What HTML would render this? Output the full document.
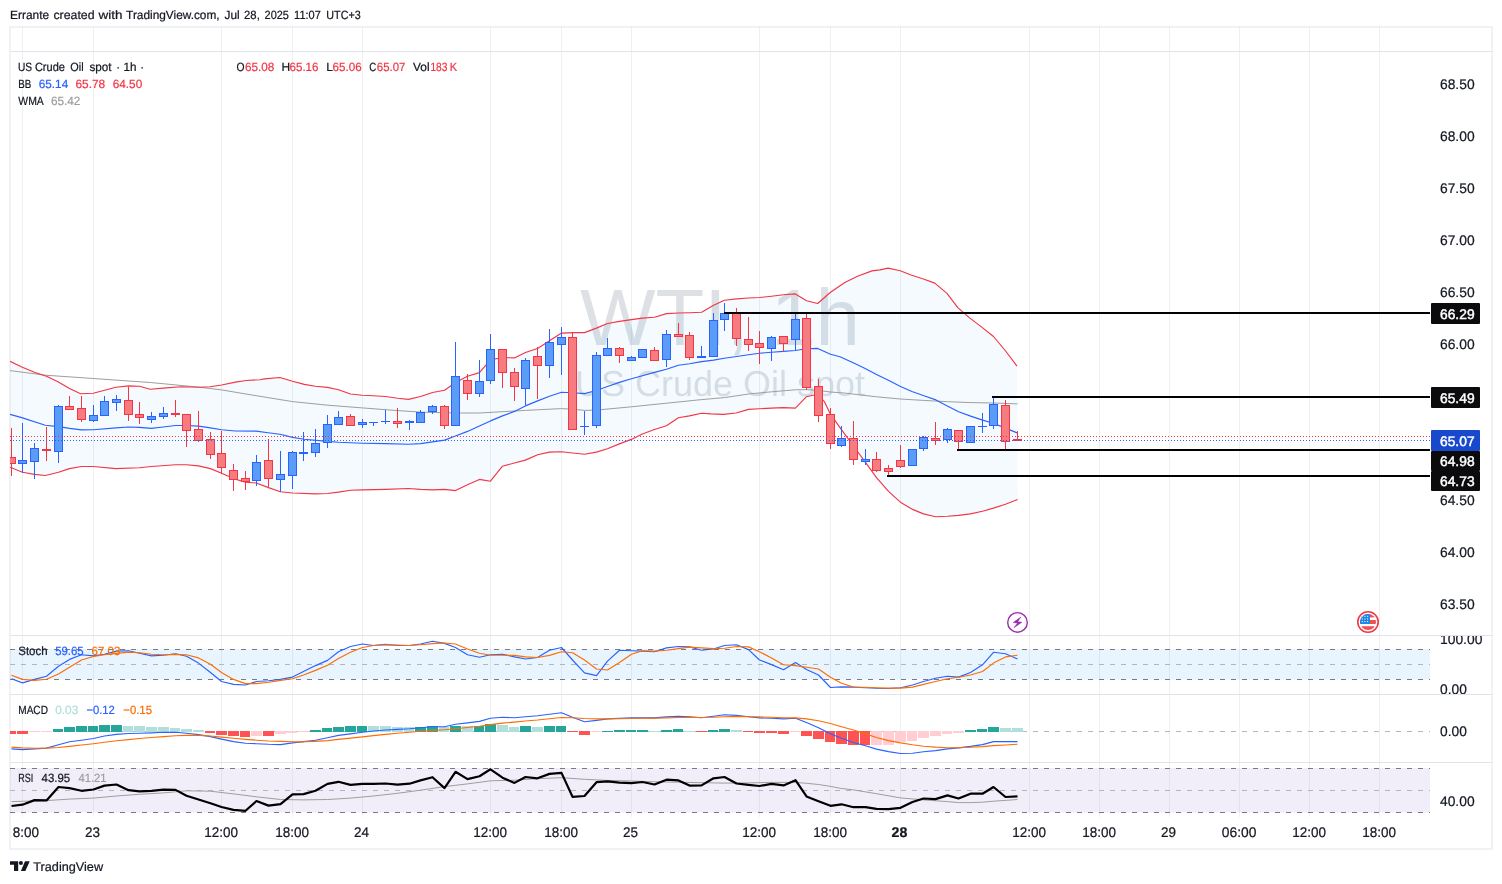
<!DOCTYPE html>
<html lang="en"><head><meta charset="utf-8"><title>US Crude Oil spot 1h - TradingView</title>
<style>html,body{margin:0;padding:0;background:#fff}svg{display:block}</style></head>
<body>
<svg width="1502" height="884" viewBox="0 0 1502 884" font-family='"Liberation Sans", sans-serif' text-rendering="geometricPrecision">
<rect width="1502" height="884" fill="#fff"/>
<defs><clipPath id="cp"><rect x="10" y="27" width="1420" height="790"/></clipPath><clipPath id="cpt"><rect x="13" y="817" width="1420" height="32"/></clipPath><clipPath id="cst"><rect x="1431" y="636" width="61" height="58"/></clipPath></defs>
<text y="19.1" font-size="12" fill="#131722" stroke="#131722" stroke-width="0.22"><tspan x="10.0" textLength="39.1" lengthAdjust="spacingAndGlyphs">Errante</tspan> <tspan x="53.4" textLength="41.2" lengthAdjust="spacingAndGlyphs">created</tspan> <tspan x="98.5" textLength="24.0" lengthAdjust="spacingAndGlyphs">with</tspan> <tspan x="126.1" textLength="93.5" lengthAdjust="spacingAndGlyphs">TradingView.com,</tspan> <tspan x="224.5" textLength="15.1" lengthAdjust="spacingAndGlyphs">Jul</tspan> <tspan x="244.1" textLength="15.7" lengthAdjust="spacingAndGlyphs">28,</tspan> <tspan x="264.6" textLength="24.3" lengthAdjust="spacingAndGlyphs">2025</tspan> <tspan x="294.1" textLength="26.7" lengthAdjust="spacingAndGlyphs">11:07</tspan> <tspan x="326.3" textLength="34.4" lengthAdjust="spacingAndGlyphs">UTC+3</tspan></text>
<rect x="10" y="27" width="1482" height="822" fill="none" stroke="#f1f2f4" stroke-width="2"/>
<rect x="22" y="27" width="1" height="790" fill="#2a2e39" fill-opacity="0.07"/>
<rect x="93" y="27" width="1" height="790" fill="#2a2e39" fill-opacity="0.07"/>
<rect x="221" y="27" width="1" height="790" fill="#2a2e39" fill-opacity="0.07"/>
<rect x="292" y="27" width="1" height="790" fill="#2a2e39" fill-opacity="0.07"/>
<rect x="362" y="27" width="1" height="790" fill="#2a2e39" fill-opacity="0.07"/>
<rect x="490" y="27" width="1" height="790" fill="#2a2e39" fill-opacity="0.07"/>
<rect x="561" y="27" width="1" height="790" fill="#2a2e39" fill-opacity="0.07"/>
<rect x="631" y="27" width="1" height="790" fill="#2a2e39" fill-opacity="0.07"/>
<rect x="759" y="27" width="1" height="790" fill="#2a2e39" fill-opacity="0.07"/>
<rect x="830" y="27" width="1" height="790" fill="#2a2e39" fill-opacity="0.07"/>
<rect x="900" y="27" width="1" height="790" fill="#2a2e39" fill-opacity="0.07"/>
<rect x="1029" y="27" width="1" height="790" fill="#2a2e39" fill-opacity="0.07"/>
<rect x="1099" y="27" width="1" height="790" fill="#2a2e39" fill-opacity="0.07"/>
<rect x="1169" y="27" width="1" height="790" fill="#2a2e39" fill-opacity="0.07"/>
<rect x="1239" y="27" width="1" height="790" fill="#2a2e39" fill-opacity="0.07"/>
<rect x="1309" y="27" width="1" height="790" fill="#2a2e39" fill-opacity="0.07"/>
<rect x="1379" y="27" width="1" height="790" fill="#2a2e39" fill-opacity="0.07"/>
<rect x="10" y="51" width="1482" height="1" fill="#e0e3eb"/>
<rect x="10" y="635" width="1482" height="1" fill="#e0e3eb"/>
<rect x="10" y="694" width="1482" height="1" fill="#e0e3eb"/>
<rect x="10" y="762" width="1482" height="1" fill="#e0e3eb"/>
<text x="720" y="345" font-size="80" fill="#5a6d81" text-anchor="middle" opacity="0.2">WTI, 1h</text>
<text x="720" y="396.4" font-size="36" fill="#5a6d81" text-anchor="middle" opacity="0.2">US Crude Oil spot</text>
<g clip-path="url(#cp)">
<path d="M10.0,361.3 L22.4,367.2 L34.4,372.2 L46.4,376.2 L58.4,382.1 L69.5,388.5 L80.6,393.7 L93.2,393.3 L104.6,390.3 L115.9,387.2 L128.6,385.9 L139.4,386.3 L150.3,389.3 L163.0,388.1 L181.1,386.8 L199.2,387.2 L210.0,386.8 L221.6,385.0 L235.4,382.1 L246.2,380.5 L260.0,379.7 L264.5,378.9 L279.9,377.5 L292.5,381.3 L304.3,384.4 L315.5,386.2 L327.5,387.4 L338.5,389.8 L350.5,394.0 L362.4,395.2 L373.5,395.8 L385.6,396.5 L397.6,398.3 L408.4,399.4 L420.6,396.5 L432.5,392.5 L444.6,390.3 L455.5,382.5 L467.5,376.2 L479.4,372.6 L490.5,359.8 L502.5,357.6 L514.4,357.9 L525.4,352.5 L537.6,348.5 L549.5,340.7 L561.5,333.1 L572.5,332.6 L584.5,332.6 L596.4,328.1 L607.5,323.5 L619.4,321.4 L631.4,319.6 L642.4,318.1 L654.5,317.2 L666.5,313.6 L678.4,313.0 L689.5,312.7 L701.6,312.3 L713.6,305.3 L724.4,300.2 L736.6,298.9 L748.5,298.0 L759.6,297.5 L771.5,296.2 L783.5,294.8 L795.4,293.9 L806.5,300.7 L817.7,303.5 L830.5,292.2 L844.8,282.6 L857.5,276.3 L872.0,270.9 L880.0,269.9 L888.1,268.1 L900.3,270.8 L911.7,275.3 L923.4,279.0 L934.8,283.1 L947.0,293.4 L957.8,307.6 L969.6,317.9 L981.4,326.9 L993.5,336.5 L1005.2,350.5 L1017.0,366.2 L1017.6,499.5 L1005.5,504.3 L993.5,508.1 L982.5,511.2 L970.5,513.9 L958.4,515.4 L947.5,516.3 L935.6,516.7 L923.4,513.9 L912.6,509.4 L900.4,502.2 L888.5,491.3 L876.5,477.7 L865.5,462.3 L853.4,446.0 L841.6,429.8 L830.6,414.4 L824.4,401.7 L817.2,394.2 L806.5,396.7 L795.4,408.1 L783.5,407.6 L771.5,408.1 L759.6,408.8 L748.5,409.4 L736.2,413.0 L723.5,414.4 L710.9,413.9 L701.6,413.2 L689.5,415.9 L678.4,417.7 L666.5,425.8 L654.5,429.5 L642.4,434.0 L631.4,439.4 L619.4,443.9 L607.5,448.8 L596.4,452.1 L584.5,454.3 L572.5,453.0 L561.5,451.7 L549.5,452.1 L537.6,454.8 L525.3,460.1 L514.4,463.0 L502.5,466.2 L490.4,481.2 L479.4,479.4 L467.5,484.8 L455.5,490.6 L444.6,489.4 L432.5,489.9 L420.6,489.4 L408.4,488.5 L385.6,489.4 L362.4,489.9 L350.5,490.3 L338.5,492.1 L327.5,493.5 L315.5,493.9 L292.5,493.0 L280.4,491.7 L268.5,487.6 L256.3,483.0 L245.5,482.2 L233.6,478.6 L221.6,473.2 L210.4,468.6 L198.4,465.9 L186.5,464.7 L175.6,464.7 L151.4,466.5 L139.4,467.7 L115.9,468.6 L93.4,466.5 L81.5,466.5 L69.5,468.6 L58.5,472.3 L45.3,475.5 L34.4,474.4 L22.5,472.3 L10.0,467.2Z" fill="#2196f3" fill-opacity="0.05"/>
<path d="M10.0,370.6 L45.3,375.2 L93.2,378.5 L151.4,382.6 L199.2,387.2 L221.6,389.9 L250.0,394.7 L292.5,401.6 L327.5,405.2 L362.4,407.9 L397.6,410.6 L420.6,412.1 L444.6,412.8 L455.5,413.0 L479.4,413.0 L525.4,410.4 L561.5,408.6 L572.5,409.2 L584.5,410.4 L596.4,410.1 L631.4,406.8 L666.5,403.2 L701.6,399.6 L724.4,397.6 L748.5,394.0 L771.5,391.8 L795.4,389.8 L806.5,389.6 L817.7,390.4 L830.6,392.0 L844.8,393.1 L853.4,394.1 L876.5,396.8 L900.4,399.0 L923.4,400.4 L947.5,401.7 L970.5,402.6 L993.5,403.0 L1017.6,403.9" fill="none" stroke="#9e9e9e" stroke-width="1"/>
<path d="M10.0,414.3 L22.5,417.9 L45.3,425.2 L58.5,426.6 L69.5,428.4 L81.5,429.9 L93.4,429.7 L115.9,427.9 L128.6,427.0 L139.4,427.4 L151.4,428.4 L163.0,427.0 L175.6,425.5 L186.5,425.5 L198.4,426.1 L210.4,427.9 L221.6,429.7 L235.4,431.0 L256.3,431.1 L268.1,432.7 L279.9,434.2 L292.5,437.4 L304.3,439.2 L327.5,441.4 L338.5,442.3 L362.4,443.2 L385.6,443.6 L408.4,444.3 L420.6,443.6 L432.5,441.9 L444.6,440.1 L455.5,436.0 L467.5,431.4 L479.4,426.0 L490.5,420.9 L502.5,415.9 L514.4,411.4 L525.4,405.9 L537.6,400.9 L549.5,396.3 L561.5,392.3 L572.5,392.7 L584.5,393.6 L596.4,390.5 L607.5,386.5 L619.4,382.4 L631.4,378.8 L642.4,375.7 L654.5,372.4 L666.5,369.2 L678.4,365.2 L689.5,363.7 L701.6,361.6 L713.6,360.1 L724.4,358.3 L736.6,356.5 L748.5,354.7 L759.6,353.2 L771.5,352.3 L783.5,351.4 L795.4,350.5 L806.5,348.7 L817.7,348.4 L830.5,354.2 L840.0,356.8 L853.2,362.8 L865.2,368.5 L876.0,374.2 L887.9,380.1 L900.5,386.5 L911.9,391.5 L923.9,395.7 L935.9,399.9 L947.3,405.9 L958.6,411.7 L970.6,416.1 L982.6,420.1 L993.4,423.3 L1005.4,428.1 L1017.1,432.9" fill="none" stroke="#2962ff" stroke-width="1.15" stroke-linejoin="round"/>
<path d="M10.0,361.3 L22.4,367.2 L34.4,372.2 L46.4,376.2 L58.4,382.1 L69.5,388.5 L80.6,393.7 L93.2,393.3 L104.6,390.3 L115.9,387.2 L128.6,385.9 L139.4,386.3 L150.3,389.3 L163.0,388.1 L181.1,386.8 L199.2,387.2 L210.0,386.8 L221.6,385.0 L235.4,382.1 L246.2,380.5 L260.0,379.7 L264.5,378.9 L279.9,377.5 L292.5,381.3 L304.3,384.4 L315.5,386.2 L327.5,387.4 L338.5,389.8 L350.5,394.0 L362.4,395.2 L373.5,395.8 L385.6,396.5 L397.6,398.3 L408.4,399.4 L420.6,396.5 L432.5,392.5 L444.6,390.3 L455.5,382.5 L467.5,376.2 L479.4,372.6 L490.5,359.8 L502.5,357.6 L514.4,357.9 L525.4,352.5 L537.6,348.5 L549.5,340.7 L561.5,333.1 L572.5,332.6 L584.5,332.6 L596.4,328.1 L607.5,323.5 L619.4,321.4 L631.4,319.6 L642.4,318.1 L654.5,317.2 L666.5,313.6 L678.4,313.0 L689.5,312.7 L701.6,312.3 L713.6,305.3 L724.4,300.2 L736.6,298.9 L748.5,298.0 L759.6,297.5 L771.5,296.2 L783.5,294.8 L795.4,293.9 L806.5,300.7 L817.7,303.5 L830.5,292.2 L844.8,282.6 L857.5,276.3 L872.0,270.9 L880.0,269.9 L888.1,268.1 L900.3,270.8 L911.7,275.3 L923.4,279.0 L934.8,283.1 L947.0,293.4 L957.8,307.6 L969.6,317.9 L981.4,326.9 L993.5,336.5 L1005.2,350.5 L1017.0,366.2" fill="none" stroke="#f23645" stroke-width="1.15" stroke-linejoin="round"/>
<path d="M10.0,467.2 L22.5,472.3 L34.4,474.4 L45.3,475.5 L58.5,472.3 L69.5,468.6 L81.5,466.5 L93.4,466.5 L115.9,468.6 L139.4,467.7 L151.4,466.5 L175.6,464.7 L186.5,464.7 L198.4,465.9 L210.4,468.6 L221.6,473.2 L233.6,478.6 L245.5,482.2 L256.3,483.0 L268.5,487.6 L280.4,491.7 L292.5,493.0 L315.5,493.9 L327.5,493.5 L338.5,492.1 L350.5,490.3 L362.4,489.9 L385.6,489.4 L408.4,488.5 L420.6,489.4 L432.5,489.9 L444.6,489.4 L455.5,490.6 L467.5,484.8 L479.4,479.4 L490.4,481.2 L502.5,466.2 L514.4,463.0 L525.3,460.1 L537.6,454.8 L549.5,452.1 L561.5,451.7 L572.5,453.0 L584.5,454.3 L596.4,452.1 L607.5,448.8 L619.4,443.9 L631.4,439.4 L642.4,434.0 L654.5,429.5 L666.5,425.8 L678.4,417.7 L689.5,415.9 L701.6,413.2 L710.9,413.9 L723.5,414.4 L736.2,413.0 L748.5,409.4 L759.6,408.8 L771.5,408.1 L783.5,407.6 L795.4,408.1 L806.5,396.7 L817.2,394.2 L824.4,401.7 L830.6,414.4 L841.6,429.8 L853.4,446.0 L865.5,462.3 L876.5,477.7 L888.5,491.3 L900.4,502.2 L912.6,509.4 L923.4,513.9 L935.6,516.7 L947.5,516.3 L958.4,515.4 L970.5,513.9 L982.5,511.2 L993.5,508.1 L1005.5,504.3 L1017.6,499.5" fill="none" stroke="#f23645" stroke-width="1.15" stroke-linejoin="round"/>
<rect x="11" y="428" width="1" height="48" fill="#f23645"/>
<rect x="7.5" y="457.5" width="8" height="6" fill="#f77c80" stroke="#f23645" stroke-width="1"/>
<rect x="22" y="423" width="1" height="50" fill="#2962ff"/>
<rect x="18.5" y="460.5" width="8" height="3" fill="#5b9cf6" stroke="#2962ff" stroke-width="1"/>
<rect x="34" y="443" width="1" height="36" fill="#2962ff"/>
<rect x="30.5" y="448.5" width="8" height="13" fill="#5b9cf6" stroke="#2962ff" stroke-width="1"/>
<rect x="46" y="427" width="1" height="34" fill="#f23645"/>
<rect x="42" y="449" width="9" height="2" fill="#f23645"/>
<rect x="58" y="405" width="1" height="58" fill="#2962ff"/>
<rect x="54.5" y="406.5" width="8" height="45" fill="#5b9cf6" stroke="#2962ff" stroke-width="1"/>
<rect x="69" y="396" width="1" height="14" fill="#f23645"/>
<rect x="65.5" y="406.5" width="8" height="3" fill="#f77c80" stroke="#f23645" stroke-width="1"/>
<rect x="81" y="396" width="1" height="26" fill="#f23645"/>
<rect x="77.5" y="408.5" width="8" height="11" fill="#f77c80" stroke="#f23645" stroke-width="1"/>
<rect x="93" y="405" width="1" height="17" fill="#2962ff"/>
<rect x="89.5" y="415.5" width="8" height="5" fill="#5b9cf6" stroke="#2962ff" stroke-width="1"/>
<rect x="104" y="396" width="1" height="20" fill="#2962ff"/>
<rect x="100.5" y="401.5" width="8" height="14" fill="#5b9cf6" stroke="#2962ff" stroke-width="1"/>
<rect x="116" y="395" width="1" height="16" fill="#2962ff"/>
<rect x="112.5" y="399.5" width="8" height="3" fill="#5b9cf6" stroke="#2962ff" stroke-width="1"/>
<rect x="128" y="387" width="1" height="34" fill="#f23645"/>
<rect x="124.5" y="400.5" width="8" height="14" fill="#f77c80" stroke="#f23645" stroke-width="1"/>
<rect x="139" y="402" width="1" height="22" fill="#f23645"/>
<rect x="135.5" y="414.5" width="8" height="3" fill="#f77c80" stroke="#f23645" stroke-width="1"/>
<rect x="151" y="412" width="1" height="11" fill="#2962ff"/>
<rect x="147.5" y="416.5" width="8" height="3" fill="#5b9cf6" stroke="#2962ff" stroke-width="1"/>
<rect x="163" y="407" width="1" height="12" fill="#2962ff"/>
<rect x="159.5" y="413.5" width="8" height="3" fill="#5b9cf6" stroke="#2962ff" stroke-width="1"/>
<rect x="175" y="400" width="1" height="17" fill="#f23645"/>
<rect x="171" y="413" width="9" height="2" fill="#f23645"/>
<rect x="186" y="414" width="1" height="33" fill="#f23645"/>
<rect x="182.5" y="414.5" width="8" height="16" fill="#f77c80" stroke="#f23645" stroke-width="1"/>
<rect x="198" y="411" width="1" height="31" fill="#f23645"/>
<rect x="194.5" y="429.5" width="8" height="11" fill="#f77c80" stroke="#f23645" stroke-width="1"/>
<rect x="210" y="432" width="1" height="27" fill="#f23645"/>
<rect x="206.5" y="439.5" width="8" height="15" fill="#f77c80" stroke="#f23645" stroke-width="1"/>
<rect x="221" y="431" width="1" height="43" fill="#f23645"/>
<rect x="217.5" y="453.5" width="8" height="14" fill="#f77c80" stroke="#f23645" stroke-width="1"/>
<rect x="233" y="464" width="1" height="27" fill="#f23645"/>
<rect x="229.5" y="470.5" width="8" height="9" fill="#f77c80" stroke="#f23645" stroke-width="1"/>
<rect x="245" y="471" width="1" height="19" fill="#f23645"/>
<rect x="241.5" y="478.5" width="8" height="3" fill="#f77c80" stroke="#f23645" stroke-width="1"/>
<rect x="256" y="455" width="1" height="31" fill="#2962ff"/>
<rect x="252.5" y="462.5" width="8" height="18" fill="#5b9cf6" stroke="#2962ff" stroke-width="1"/>
<rect x="268" y="439" width="1" height="48" fill="#f23645"/>
<rect x="264.5" y="460.5" width="8" height="18" fill="#f77c80" stroke="#f23645" stroke-width="1"/>
<rect x="280" y="451" width="1" height="41" fill="#2962ff"/>
<rect x="276.5" y="474.5" width="8" height="5" fill="#5b9cf6" stroke="#2962ff" stroke-width="1"/>
<rect x="292" y="451" width="1" height="38" fill="#2962ff"/>
<rect x="288.5" y="452.5" width="8" height="23" fill="#5b9cf6" stroke="#2962ff" stroke-width="1"/>
<rect x="303" y="432" width="1" height="29" fill="#2962ff"/>
<rect x="299" y="452" width="9" height="2" fill="#2962ff"/>
<rect x="315" y="429" width="1" height="28" fill="#2962ff"/>
<rect x="311.5" y="443.5" width="8" height="9" fill="#5b9cf6" stroke="#2962ff" stroke-width="1"/>
<rect x="327" y="415" width="1" height="33" fill="#2962ff"/>
<rect x="323.5" y="424.5" width="8" height="18" fill="#5b9cf6" stroke="#2962ff" stroke-width="1"/>
<rect x="338" y="411" width="1" height="14" fill="#2962ff"/>
<rect x="334.5" y="417.5" width="8" height="7" fill="#5b9cf6" stroke="#2962ff" stroke-width="1"/>
<rect x="350" y="414" width="1" height="12" fill="#f23645"/>
<rect x="346.5" y="416.5" width="8" height="9" fill="#f77c80" stroke="#f23645" stroke-width="1"/>
<rect x="362" y="419" width="1" height="9" fill="#2962ff"/>
<rect x="358.5" y="422.5" width="8" height="2" fill="#5b9cf6" stroke="#2962ff" stroke-width="1"/>
<rect x="373" y="422" width="1" height="4" fill="#2962ff"/>
<rect x="369" y="422" width="9" height="1" fill="#2962ff"/>
<rect x="385" y="410" width="1" height="14" fill="#2962ff"/>
<rect x="381" y="421" width="9" height="1" fill="#2962ff"/>
<rect x="397" y="408" width="1" height="20" fill="#f23645"/>
<rect x="393.5" y="421.5" width="8" height="2" fill="#f77c80" stroke="#f23645" stroke-width="1"/>
<rect x="409" y="420" width="1" height="10" fill="#2962ff"/>
<rect x="405" y="421" width="9" height="2" fill="#2962ff"/>
<rect x="420" y="410" width="1" height="13" fill="#2962ff"/>
<rect x="416.5" y="412.5" width="8" height="10" fill="#5b9cf6" stroke="#2962ff" stroke-width="1"/>
<rect x="432" y="405" width="1" height="9" fill="#2962ff"/>
<rect x="428.5" y="406.5" width="8" height="5" fill="#5b9cf6" stroke="#2962ff" stroke-width="1"/>
<rect x="444" y="405" width="1" height="24" fill="#f23645"/>
<rect x="440.5" y="406.5" width="8" height="19" fill="#f77c80" stroke="#f23645" stroke-width="1"/>
<rect x="455" y="342" width="1" height="84" fill="#2962ff"/>
<rect x="451.5" y="376.5" width="8" height="49" fill="#5b9cf6" stroke="#2962ff" stroke-width="1"/>
<rect x="467" y="374" width="1" height="26" fill="#f23645"/>
<rect x="463.5" y="380.5" width="8" height="13" fill="#f77c80" stroke="#f23645" stroke-width="1"/>
<rect x="479" y="360" width="1" height="37" fill="#2962ff"/>
<rect x="475.5" y="381.5" width="8" height="12" fill="#5b9cf6" stroke="#2962ff" stroke-width="1"/>
<rect x="490" y="334" width="1" height="50" fill="#2962ff"/>
<rect x="486.5" y="349.5" width="8" height="31" fill="#5b9cf6" stroke="#2962ff" stroke-width="1"/>
<rect x="502" y="349" width="1" height="39" fill="#f23645"/>
<rect x="498.5" y="349.5" width="8" height="23" fill="#f77c80" stroke="#f23645" stroke-width="1"/>
<rect x="514" y="368" width="1" height="33" fill="#f23645"/>
<rect x="510.5" y="372.5" width="8" height="14" fill="#f77c80" stroke="#f23645" stroke-width="1"/>
<rect x="525" y="358" width="1" height="47" fill="#2962ff"/>
<rect x="521.5" y="360.5" width="8" height="28" fill="#5b9cf6" stroke="#2962ff" stroke-width="1"/>
<rect x="537" y="347" width="1" height="52" fill="#f23645"/>
<rect x="533.5" y="356.5" width="8" height="9" fill="#f77c80" stroke="#f23645" stroke-width="1"/>
<rect x="549" y="329" width="1" height="49" fill="#2962ff"/>
<rect x="545.5" y="342.5" width="8" height="23" fill="#5b9cf6" stroke="#2962ff" stroke-width="1"/>
<rect x="561" y="327" width="1" height="48" fill="#2962ff"/>
<rect x="557.5" y="337.5" width="8" height="7" fill="#5b9cf6" stroke="#2962ff" stroke-width="1"/>
<rect x="572" y="332" width="1" height="98" fill="#f23645"/>
<rect x="568.5" y="337.5" width="8" height="92" fill="#f77c80" stroke="#f23645" stroke-width="1"/>
<rect x="584" y="411" width="1" height="24" fill="#2962ff"/>
<rect x="580" y="426" width="9" height="1" fill="#2962ff"/>
<rect x="596" y="352" width="1" height="76" fill="#2962ff"/>
<rect x="592.5" y="355.5" width="8" height="70" fill="#5b9cf6" stroke="#2962ff" stroke-width="1"/>
<rect x="607" y="338" width="1" height="18" fill="#2962ff"/>
<rect x="603.5" y="348.5" width="8" height="7" fill="#5b9cf6" stroke="#2962ff" stroke-width="1"/>
<rect x="619" y="347" width="1" height="16" fill="#f23645"/>
<rect x="615.5" y="348.5" width="8" height="7" fill="#f77c80" stroke="#f23645" stroke-width="1"/>
<rect x="631" y="356" width="1" height="5" fill="#2962ff"/>
<rect x="627.5" y="357.5" width="8" height="3" fill="#5b9cf6" stroke="#2962ff" stroke-width="1"/>
<rect x="642" y="349" width="1" height="9" fill="#2962ff"/>
<rect x="638.5" y="349.5" width="8" height="8" fill="#5b9cf6" stroke="#2962ff" stroke-width="1"/>
<rect x="654" y="347" width="1" height="14" fill="#f23645"/>
<rect x="650.5" y="350.5" width="8" height="10" fill="#f77c80" stroke="#f23645" stroke-width="1"/>
<rect x="666" y="330" width="1" height="37" fill="#2962ff"/>
<rect x="662.5" y="334.5" width="8" height="25" fill="#5b9cf6" stroke="#2962ff" stroke-width="1"/>
<rect x="678" y="323" width="1" height="14" fill="#f23645"/>
<rect x="674.5" y="334.5" width="8" height="2" fill="#f77c80" stroke="#f23645" stroke-width="1"/>
<rect x="689" y="332" width="1" height="28" fill="#f23645"/>
<rect x="685.5" y="335.5" width="8" height="22" fill="#f77c80" stroke="#f23645" stroke-width="1"/>
<rect x="701" y="346" width="1" height="12" fill="#2962ff"/>
<rect x="697" y="356" width="9" height="2" fill="#2962ff"/>
<rect x="713" y="313" width="1" height="44" fill="#2962ff"/>
<rect x="709.5" y="320.5" width="8" height="36" fill="#5b9cf6" stroke="#2962ff" stroke-width="1"/>
<rect x="724" y="303" width="1" height="28" fill="#2962ff"/>
<rect x="720.5" y="313.5" width="8" height="6" fill="#5b9cf6" stroke="#2962ff" stroke-width="1"/>
<rect x="736" y="308" width="1" height="38" fill="#f23645"/>
<rect x="732.5" y="313.5" width="8" height="25" fill="#f77c80" stroke="#f23645" stroke-width="1"/>
<rect x="748" y="317" width="1" height="34" fill="#f23645"/>
<rect x="744.5" y="339.5" width="8" height="5" fill="#f77c80" stroke="#f23645" stroke-width="1"/>
<rect x="759" y="331" width="1" height="33" fill="#f23645"/>
<rect x="755.5" y="343.5" width="8" height="4" fill="#f77c80" stroke="#f23645" stroke-width="1"/>
<rect x="771" y="336" width="1" height="25" fill="#2962ff"/>
<rect x="767.5" y="337.5" width="8" height="11" fill="#5b9cf6" stroke="#2962ff" stroke-width="1"/>
<rect x="783" y="336" width="1" height="16" fill="#f23645"/>
<rect x="779.5" y="336.5" width="8" height="7" fill="#f77c80" stroke="#f23645" stroke-width="1"/>
<rect x="795" y="313" width="1" height="38" fill="#2962ff"/>
<rect x="791.5" y="319.5" width="8" height="20" fill="#5b9cf6" stroke="#2962ff" stroke-width="1"/>
<rect x="806" y="313" width="1" height="77" fill="#f23645"/>
<rect x="802.5" y="318.5" width="8" height="69" fill="#f77c80" stroke="#f23645" stroke-width="1"/>
<rect x="818" y="379" width="1" height="43" fill="#f23645"/>
<rect x="814.5" y="386.5" width="8" height="29" fill="#f77c80" stroke="#f23645" stroke-width="1"/>
<rect x="830" y="408" width="1" height="41" fill="#f23645"/>
<rect x="826.5" y="414.5" width="8" height="29" fill="#f77c80" stroke="#f23645" stroke-width="1"/>
<rect x="841" y="426" width="1" height="21" fill="#2962ff"/>
<rect x="837.5" y="438.5" width="8" height="7" fill="#5b9cf6" stroke="#2962ff" stroke-width="1"/>
<rect x="853" y="421" width="1" height="44" fill="#f23645"/>
<rect x="849.5" y="438.5" width="8" height="21" fill="#f77c80" stroke="#f23645" stroke-width="1"/>
<rect x="865" y="449" width="1" height="16" fill="#2962ff"/>
<rect x="861.5" y="459.5" width="8" height="2" fill="#5b9cf6" stroke="#2962ff" stroke-width="1"/>
<rect x="876" y="452" width="1" height="20" fill="#f23645"/>
<rect x="872.5" y="459.5" width="8" height="11" fill="#f77c80" stroke="#f23645" stroke-width="1"/>
<rect x="888" y="465" width="1" height="11" fill="#f23645"/>
<rect x="884.5" y="468.5" width="8" height="3" fill="#f77c80" stroke="#f23645" stroke-width="1"/>
<rect x="900" y="445" width="1" height="23" fill="#f23645"/>
<rect x="896.5" y="460.5" width="8" height="6" fill="#f77c80" stroke="#f23645" stroke-width="1"/>
<rect x="912" y="449" width="1" height="17" fill="#2962ff"/>
<rect x="908.5" y="449.5" width="8" height="16" fill="#5b9cf6" stroke="#2962ff" stroke-width="1"/>
<rect x="923" y="436" width="1" height="15" fill="#2962ff"/>
<rect x="919.5" y="437.5" width="8" height="11" fill="#5b9cf6" stroke="#2962ff" stroke-width="1"/>
<rect x="935" y="422" width="1" height="23" fill="#f23645"/>
<rect x="931.5" y="438.5" width="8" height="2" fill="#f77c80" stroke="#f23645" stroke-width="1"/>
<rect x="947" y="428" width="1" height="15" fill="#2962ff"/>
<rect x="943.5" y="429.5" width="8" height="10" fill="#5b9cf6" stroke="#2962ff" stroke-width="1"/>
<rect x="958" y="430" width="1" height="20" fill="#f23645"/>
<rect x="954.5" y="430.5" width="8" height="11" fill="#f77c80" stroke="#f23645" stroke-width="1"/>
<rect x="970" y="426" width="1" height="17" fill="#2962ff"/>
<rect x="966.5" y="426.5" width="8" height="16" fill="#5b9cf6" stroke="#2962ff" stroke-width="1"/>
<rect x="982" y="413" width="1" height="20" fill="#2962ff"/>
<rect x="978" y="426" width="9" height="1" fill="#2962ff"/>
<rect x="993" y="397" width="1" height="32" fill="#2962ff"/>
<rect x="989.5" y="404.5" width="8" height="21" fill="#5b9cf6" stroke="#2962ff" stroke-width="1"/>
<rect x="1005" y="400" width="1" height="50" fill="#f23645"/>
<rect x="1001.5" y="405.5" width="8" height="36" fill="#f77c80" stroke="#f23645" stroke-width="1"/>
<rect x="1017" y="431" width="1" height="10" fill="#f23645"/>
<rect x="1013" y="439" width="9" height="2" fill="#f23645"/>
<line x1="10" x2="1430" y1="436.5" y2="436.5" stroke="#f23645" stroke-width="1" stroke-dasharray="1 2"/>
<line x1="10" x2="1430" y1="440.5" y2="440.5" stroke="#2962ff" stroke-width="1" stroke-dasharray="1 2"/>
</g>
<rect x="724" y="312" width="706" height="2" fill="#000"/>
<rect x="992" y="396" width="438" height="2" fill="#000"/>
<rect x="957" y="449" width="473" height="2" fill="#000"/>
<rect x="887" y="475" width="543" height="2" fill="#000"/>
<text x="1440" y="89" font-size="14" fill="#131722" textLength="34.6" lengthAdjust="spacingAndGlyphs" stroke="#131722" stroke-width="0.22">68.50</text>
<text x="1440" y="141" font-size="14" fill="#131722" textLength="34.6" lengthAdjust="spacingAndGlyphs" stroke="#131722" stroke-width="0.22">68.00</text>
<text x="1440" y="193" font-size="14" fill="#131722" textLength="34.6" lengthAdjust="spacingAndGlyphs" stroke="#131722" stroke-width="0.22">67.50</text>
<text x="1440" y="245" font-size="14" fill="#131722" textLength="34.6" lengthAdjust="spacingAndGlyphs" stroke="#131722" stroke-width="0.22">67.00</text>
<text x="1440" y="297" font-size="14" fill="#131722" textLength="34.6" lengthAdjust="spacingAndGlyphs" stroke="#131722" stroke-width="0.22">66.50</text>
<text x="1440" y="349" font-size="14" fill="#131722" textLength="34.6" lengthAdjust="spacingAndGlyphs" stroke="#131722" stroke-width="0.22">66.00</text>
<text x="1440" y="401" font-size="14" fill="#131722" textLength="34.6" lengthAdjust="spacingAndGlyphs" stroke="#131722" stroke-width="0.22">65.50</text>
<text x="1440" y="453" font-size="14" fill="#131722" textLength="34.6" lengthAdjust="spacingAndGlyphs" stroke="#131722" stroke-width="0.22">65.00</text>
<text x="1440" y="505" font-size="14" fill="#131722" textLength="34.6" lengthAdjust="spacingAndGlyphs" stroke="#131722" stroke-width="0.22">64.50</text>
<text x="1440" y="557" font-size="14" fill="#131722" textLength="34.6" lengthAdjust="spacingAndGlyphs" stroke="#131722" stroke-width="0.22">64.00</text>
<text x="1440" y="609" font-size="14" fill="#131722" textLength="34.6" lengthAdjust="spacingAndGlyphs" stroke="#131722" stroke-width="0.22">63.50</text>
<rect x="1431" y="303" width="49" height="21" rx="1" fill="#0b0b0d"/>
<text x="1440" y="318.5" font-size="14" fill="#fff" textLength="34.6" lengthAdjust="spacingAndGlyphs" stroke="#fff" stroke-width="0.45">66.29</text>
<rect x="1431" y="387" width="49" height="21" rx="1" fill="#0b0b0d"/>
<text x="1440" y="402.5" font-size="14" fill="#fff" textLength="34.6" lengthAdjust="spacingAndGlyphs" stroke="#fff" stroke-width="0.45">65.49</text>
<rect x="1431" y="451" width="49" height="20" rx="1" fill="#0b0b0d"/>
<text x="1440" y="466.0" font-size="14" fill="#fff" textLength="34.6" lengthAdjust="spacingAndGlyphs" stroke="#fff" stroke-width="0.45">64.98</text>
<rect x="1431" y="471" width="49" height="20" rx="1" fill="#0b0b0d"/>
<text x="1440" y="486.0" font-size="14" fill="#fff" textLength="34.6" lengthAdjust="spacingAndGlyphs" stroke="#fff" stroke-width="0.45">64.73</text>
<rect x="1431" y="430" width="49" height="21" rx="1" fill="#1848cc"/>
<text x="1440" y="445.5" font-size="14" fill="#fff" textLength="34.6" lengthAdjust="spacingAndGlyphs" stroke="#fff" stroke-width="0.45">65.07</text>
<text y="70.9" font-size="12" fill="#131722" stroke="#131722" stroke-width="0.22"><tspan x="17.9" textLength="14.1" lengthAdjust="spacingAndGlyphs">US</tspan> <tspan x="34.9" textLength="30.1" lengthAdjust="spacingAndGlyphs">Crude</tspan> <tspan x="70.3" textLength="13.3" lengthAdjust="spacingAndGlyphs">Oil</tspan> <tspan x="89.5" textLength="22.1" lengthAdjust="spacingAndGlyphs">spot</tspan> <tspan x="116.5" textLength="3.3" lengthAdjust="spacingAndGlyphs">·</tspan> <tspan x="123.6" textLength="13.0" lengthAdjust="spacingAndGlyphs">1h</tspan> <tspan x="140.6" textLength="3.3" lengthAdjust="spacingAndGlyphs">·</tspan></text>
<text x="236.6" y="70.9" font-size="12" fill="#131722" textLength="8" lengthAdjust="spacingAndGlyphs" stroke="#131722" stroke-width="0.22">O</text>
<text x="245" y="70.9" font-size="12" fill="#f23645" textLength="29.3" lengthAdjust="spacingAndGlyphs" stroke="#f23645" stroke-width="0.22">65.08</text>
<text x="281.4" y="70.9" font-size="12" fill="#131722" stroke="#131722" stroke-width="0.22">H</text>
<text x="289.5" y="70.9" font-size="12" fill="#f23645" textLength="29" lengthAdjust="spacingAndGlyphs" stroke="#f23645" stroke-width="0.22">65.16</text>
<text x="326.2" y="70.9" font-size="12" fill="#131722" stroke="#131722" stroke-width="0.22">L</text>
<text x="332.6" y="70.9" font-size="12" fill="#f23645" textLength="29" lengthAdjust="spacingAndGlyphs" stroke="#f23645" stroke-width="0.22">65.06</text>
<text x="369.3" y="70.9" font-size="12" fill="#131722" textLength="7" lengthAdjust="spacingAndGlyphs" stroke="#131722" stroke-width="0.22">C</text>
<text x="376.8" y="70.9" font-size="12" fill="#f23645" textLength="28.6" lengthAdjust="spacingAndGlyphs" stroke="#f23645" stroke-width="0.22">65.07</text>
<text x="413.1" y="70.9" font-size="12" fill="#131722" textLength="16.5" lengthAdjust="spacingAndGlyphs" stroke="#131722" stroke-width="0.22">Vol</text>
<text x="430.4" y="70.9" font-size="12" fill="#f23645" textLength="17" lengthAdjust="spacingAndGlyphs" stroke="#f23645" stroke-width="0.22">183</text>
<text x="449.8" y="70.9" font-size="12" fill="#f23645" textLength="7.4" lengthAdjust="spacingAndGlyphs" stroke="#f23645" stroke-width="0.22">K</text>
<text x="18.3" y="87.9" font-size="12" fill="#131722" textLength="13" lengthAdjust="spacingAndGlyphs" stroke="#131722" stroke-width="0.22">BB</text>
<text x="38.7" y="87.9" font-size="12" fill="#2962ff" textLength="29.5" lengthAdjust="spacingAndGlyphs" stroke="#2962ff" stroke-width="0.22">65.14</text>
<text x="75.4" y="87.9" font-size="12" fill="#f23645" textLength="29.8" lengthAdjust="spacingAndGlyphs" stroke="#f23645" stroke-width="0.22">65.78</text>
<text x="112.7" y="87.9" font-size="12" fill="#f23645" textLength="29.5" lengthAdjust="spacingAndGlyphs" stroke="#f23645" stroke-width="0.22">64.50</text>
<text x="18.3" y="104.9" font-size="12" fill="#131722" textLength="25.5" lengthAdjust="spacingAndGlyphs" stroke="#131722" stroke-width="0.22">WMA</text>
<text x="50.9" y="104.9" font-size="12" fill="#9e9e9e" textLength="29.5" lengthAdjust="spacingAndGlyphs" stroke="#9e9e9e" stroke-width="0.22">65.42</text>
<g clip-path="url(#cp)">
<rect x="10" y="649" width="1420" height="30.5" fill="#2196f3" fill-opacity="0.1"/>
<line x1="10" x2="1430" y1="649.5" y2="649.5" stroke="#787b86" stroke-width="1" stroke-dasharray="5 6"/>
<line x1="10" x2="1430" y1="664.5" y2="664.5" stroke="#b2b5be" stroke-width="1" stroke-dasharray="5 6"/>
<line x1="10" x2="1430" y1="679.5" y2="679.5" stroke="#787b86" stroke-width="1" stroke-dasharray="5 6"/>
<path d="M11.5,678.8 L22.5,682.9 L34.5,679.4 L46.5,676.3 L58.5,666.3 L69.5,659.4 L81.5,654.8 L93.5,655.9 L104.5,654.2 L116.5,651.1 L128.5,650.7 L139.5,653.2 L151.5,655.9 L163.5,655.2 L175.5,653.8 L186.5,656.3 L198.5,663.1 L210.5,672.5 L221.5,681.5 L233.5,684.4 L245.5,685.0 L256.5,681.5 L268.5,680.8 L280.5,679.4 L292.5,677.1 L303.5,671.5 L315.5,665.6 L327.5,660.4 L338.5,651.7 L350.5,646.5 L362.5,644.0 L373.5,645.5 L385.5,644.4 L397.5,645.5 L409.5,645.5 L420.5,644.0 L432.5,641.3 L444.5,643.4 L455.5,647.5 L467.5,654.8 L479.5,657.3 L490.5,654.8 L502.5,654.2 L514.5,656.9 L525.5,659.0 L537.5,657.5 L549.5,650.2 L561.5,647.5 L572.5,660.0 L584.5,672.9 L596.5,675.6 L607.5,661.1 L619.5,650.2 L631.5,650.7 L642.5,651.1 L654.5,651.7 L666.5,647.9 L678.5,646.5 L689.5,646.9 L701.5,650.2 L713.5,649.0 L724.5,645.5 L736.5,644.8 L748.5,649.6 L759.5,660.0 L771.5,664.6 L783.5,669.8 L795.5,662.5 L806.5,669.4 L818.5,675.0 L830.5,687.5 L841.5,686.9 L853.5,687.1 L865.5,687.7 L876.5,688.3 L888.5,688.5 L900.5,687.7 L912.5,685.0 L923.5,681.5 L935.5,678.3 L947.5,676.3 L958.5,677.1 L970.5,672.5 L982.5,664.8 L993.5,652.3 L1005.5,653.8 L1017.5,659.0" fill="none" stroke="#2962ff" stroke-width="1.15" stroke-linejoin="round"/>
<path d="M11.5,675.2 L22.5,679.4 L34.5,680.4 L46.5,679.2 L58.5,674.0 L69.5,667.3 L81.5,660.0 L93.5,656.5 L104.5,654.8 L116.5,653.4 L128.5,652.1 L139.5,652.7 L151.5,654.2 L163.5,654.8 L175.5,654.4 L186.5,654.8 L198.5,657.9 L210.5,664.2 L221.5,672.5 L233.5,679.4 L245.5,683.6 L256.5,683.6 L268.5,682.3 L280.5,680.4 L292.5,678.8 L303.5,675.0 L315.5,670.4 L327.5,665.2 L338.5,658.6 L350.5,652.3 L362.5,647.5 L373.5,645.5 L385.5,644.8 L397.5,645.0 L409.5,645.5 L420.5,644.8 L432.5,643.6 L444.5,643.0 L455.5,644.0 L467.5,649.0 L479.5,653.2 L490.5,655.2 L502.5,655.2 L514.5,655.4 L525.5,656.9 L537.5,657.5 L549.5,655.4 L561.5,651.7 L572.5,652.7 L584.5,660.0 L596.5,669.0 L607.5,670.0 L619.5,662.5 L631.5,654.2 L642.5,650.7 L654.5,651.1 L666.5,650.2 L678.5,648.6 L689.5,647.1 L701.5,647.9 L713.5,648.6 L724.5,648.2 L736.5,646.5 L748.5,646.9 L759.5,651.7 L771.5,657.9 L783.5,664.8 L795.5,665.6 L806.5,667.3 L818.5,669.0 L830.5,677.3 L841.5,683.3 L853.5,687.1 L865.5,687.3 L876.5,687.7 L888.5,688.1 L900.5,688.1 L912.5,687.1 L923.5,684.4 L935.5,681.5 L947.5,678.8 L958.5,677.3 L970.5,675.0 L982.5,671.5 L993.5,663.1 L1005.5,656.9 L1017.5,655.2" fill="none" stroke="#ff6d00" stroke-width="1.15" stroke-linejoin="round"/>
<line x1="10" x2="1430" y1="731.5" y2="731.5" stroke="#b2b5be" stroke-width="1" stroke-dasharray="5 6"/>
<rect x="6" y="731.0" width="10" height="3.0" fill="#ff5252"/>
<rect x="17" y="731.0" width="11" height="3.0" fill="#ff5252"/>
<rect x="29" y="731.0" width="11" height="1.0" fill="#ffcdd2"/>
<rect x="41" y="731.0" width="11" height="1.0" fill="#ffcdd2"/>
<rect x="53" y="729.0" width="10" height="3.0" fill="#26a69a"/>
<rect x="64" y="727.0" width="11" height="5.0" fill="#26a69a"/>
<rect x="76" y="726.0" width="11" height="6.0" fill="#26a69a"/>
<rect x="88" y="726.0" width="10" height="6.0" fill="#26a69a"/>
<rect x="99" y="725.0" width="11" height="7.0" fill="#26a69a"/>
<rect x="111" y="725.0" width="11" height="7.0" fill="#26a69a"/>
<rect x="123" y="726.0" width="10" height="6.0" fill="#b2dfdb"/>
<rect x="134" y="726.0" width="11" height="6.0" fill="#b2dfdb"/>
<rect x="146" y="727.0" width="11" height="5.0" fill="#b2dfdb"/>
<rect x="158" y="727.0" width="11" height="5.0" fill="#b2dfdb"/>
<rect x="170" y="728.0" width="10" height="4.0" fill="#b2dfdb"/>
<rect x="181" y="729.0" width="11" height="3.0" fill="#b2dfdb"/>
<rect x="193" y="730.0" width="11" height="2.0" fill="#b2dfdb"/>
<rect x="205" y="731.0" width="10" height="2.0" fill="#ff5252"/>
<rect x="216" y="731.0" width="11" height="4.0" fill="#ff5252"/>
<rect x="228" y="731.0" width="11" height="5.0" fill="#ff5252"/>
<rect x="240" y="731.0" width="10" height="6.0" fill="#ff5252"/>
<rect x="251" y="731.0" width="11" height="5.0" fill="#ffcdd2"/>
<rect x="263" y="731.0" width="11" height="5.0" fill="#ff5252"/>
<rect x="275" y="731.0" width="11" height="3.0" fill="#ffcdd2"/>
<rect x="287" y="731.0" width="10" height="2.0" fill="#ffcdd2"/>
<rect x="298" y="731.0" width="11" height="1.0" fill="#ffcdd2"/>
<rect x="310" y="730.0" width="11" height="2.0" fill="#26a69a"/>
<rect x="322" y="728.0" width="10" height="4.0" fill="#26a69a"/>
<rect x="333" y="727.0" width="11" height="5.0" fill="#26a69a"/>
<rect x="345" y="726.0" width="11" height="6.0" fill="#26a69a"/>
<rect x="357" y="726.0" width="10" height="6.0" fill="#26a69a"/>
<rect x="368" y="726.0" width="11" height="6.0" fill="#b2dfdb"/>
<rect x="380" y="726.0" width="11" height="6.0" fill="#b2dfdb"/>
<rect x="392" y="727.0" width="11" height="5.0" fill="#b2dfdb"/>
<rect x="404" y="727.0" width="10" height="5.0" fill="#b2dfdb"/>
<rect x="415" y="727.0" width="11" height="5.0" fill="#26a69a"/>
<rect x="427" y="726.0" width="11" height="6.0" fill="#26a69a"/>
<rect x="439" y="727.0" width="10" height="5.0" fill="#b2dfdb"/>
<rect x="450" y="726.0" width="11" height="6.0" fill="#26a69a"/>
<rect x="462" y="726.0" width="11" height="6.0" fill="#b2dfdb"/>
<rect x="474" y="726.0" width="10" height="6.0" fill="#26a69a"/>
<rect x="485" y="724.0" width="11" height="8.0" fill="#26a69a"/>
<rect x="497" y="725.0" width="11" height="7.0" fill="#b2dfdb"/>
<rect x="509" y="727.0" width="10" height="5.0" fill="#b2dfdb"/>
<rect x="520" y="726.0" width="11" height="6.0" fill="#26a69a"/>
<rect x="532" y="727.0" width="11" height="5.0" fill="#b2dfdb"/>
<rect x="544" y="726.0" width="11" height="6.0" fill="#26a69a"/>
<rect x="556" y="726.0" width="10" height="6.0" fill="#26a69a"/>
<rect x="567" y="731.0" width="11" height="1.0" fill="#ff5252"/>
<rect x="579" y="731.0" width="11" height="4.0" fill="#ff5252"/>
<rect x="591" y="731.0" width="10" height="1.0" fill="#ffcdd2"/>
<rect x="602" y="731.0" width="11" height="1.0" fill="#26a69a"/>
<rect x="614" y="730.0" width="11" height="2.0" fill="#26a69a"/>
<rect x="626" y="730.0" width="10" height="2.0" fill="#26a69a"/>
<rect x="637" y="730.0" width="11" height="2.0" fill="#26a69a"/>
<rect x="649" y="731.0" width="11" height="1.0" fill="#b2dfdb"/>
<rect x="661" y="730.0" width="11" height="2.0" fill="#26a69a"/>
<rect x="673" y="729.0" width="10" height="3.0" fill="#26a69a"/>
<rect x="684" y="731.0" width="11" height="1.0" fill="#b2dfdb"/>
<rect x="696" y="731.0" width="11" height="1.0" fill="#ff5252"/>
<rect x="708" y="730.0" width="10" height="2.0" fill="#26a69a"/>
<rect x="719" y="729.0" width="11" height="3.0" fill="#26a69a"/>
<rect x="731" y="730.0" width="11" height="2.0" fill="#b2dfdb"/>
<rect x="743" y="731.0" width="10" height="1.0" fill="#ff5252"/>
<rect x="754" y="731.0" width="11" height="2.0" fill="#ff5252"/>
<rect x="766" y="731.0" width="11" height="2.0" fill="#ff5252"/>
<rect x="778" y="731.0" width="11" height="3.0" fill="#ff5252"/>
<rect x="790" y="731.0" width="10" height="1.0" fill="#ffcdd2"/>
<rect x="801" y="731.0" width="11" height="5.0" fill="#ff5252"/>
<rect x="813" y="731.0" width="11" height="8.0" fill="#ff5252"/>
<rect x="825" y="731.0" width="10" height="11.0" fill="#ff5252"/>
<rect x="836" y="731.0" width="11" height="13.0" fill="#ff5252"/>
<rect x="848" y="731.0" width="11" height="14.0" fill="#ff5252"/>
<rect x="860" y="731.0" width="10" height="14.0" fill="#ff5252"/>
<rect x="871" y="731.0" width="11" height="14.0" fill="#ffcdd2"/>
<rect x="883" y="731.0" width="11" height="14.0" fill="#ffcdd2"/>
<rect x="895" y="731.0" width="11" height="11.0" fill="#ffcdd2"/>
<rect x="907" y="731.0" width="10" height="10.0" fill="#ffcdd2"/>
<rect x="918" y="731.0" width="11" height="7.0" fill="#ffcdd2"/>
<rect x="930" y="731.0" width="11" height="5.0" fill="#ffcdd2"/>
<rect x="942" y="731.0" width="10" height="3.0" fill="#ffcdd2"/>
<rect x="953" y="731.0" width="11" height="2.0" fill="#ffcdd2"/>
<rect x="965" y="730.0" width="11" height="2.0" fill="#26a69a"/>
<rect x="977" y="729.0" width="10" height="3.0" fill="#26a69a"/>
<rect x="988" y="727.0" width="11" height="5.0" fill="#26a69a"/>
<rect x="1000" y="728.0" width="11" height="4.0" fill="#b2dfdb"/>
<rect x="1012" y="728.0" width="11" height="4.0" fill="#b2dfdb"/>
<path d="M11.5,748.9 L22.5,749.6 L34.5,748.9 L46.5,748.1 L58.5,744.8 L69.5,741.8 L81.5,740.2 L93.5,738.5 L104.5,736.0 L116.5,734.4 L128.5,733.5 L139.5,733.3 L151.5,732.9 L163.5,732.3 L175.5,732.3 L186.5,733.3 L198.5,734.6 L210.5,736.6 L221.5,739.1 L233.5,741.6 L245.5,743.3 L256.5,743.7 L268.5,744.3 L280.5,744.6 L292.5,742.9 L303.5,741.6 L315.5,740.2 L327.5,737.7 L338.5,735.4 L350.5,733.9 L362.5,732.3 L373.5,731.0 L385.5,730.0 L397.5,729.4 L409.5,728.7 L420.5,727.7 L432.5,726.7 L444.5,726.7 L455.5,724.2 L467.5,722.9 L479.5,721.4 L490.5,718.3 L502.5,717.3 L514.5,717.7 L525.5,716.7 L537.5,715.8 L549.5,714.2 L561.5,712.7 L572.5,717.3 L584.5,721.7 L596.5,720.4 L607.5,718.9 L619.5,718.3 L631.5,717.9 L642.5,717.7 L654.5,717.9 L666.5,716.9 L678.5,716.2 L689.5,716.9 L701.5,717.7 L713.5,716.2 L724.5,714.8 L736.5,715.4 L748.5,716.7 L759.5,717.9 L771.5,718.3 L783.5,718.9 L795.5,718.3 L806.5,722.5 L818.5,727.7 L830.5,733.7 L841.5,738.3 L853.5,742.5 L865.5,745.8 L876.5,749.1 L888.5,751.6 L900.5,753.5 L912.5,753.3 L923.5,751.8 L935.5,750.6 L947.5,748.9 L958.5,747.9 L970.5,746.4 L982.5,744.6 L993.5,741.6 L1005.5,741.6 L1017.5,741.6" fill="none" stroke="#2962ff" stroke-width="1.15" stroke-linejoin="round"/>
<path d="M11.5,747.1 L22.5,747.9 L34.5,748.3 L46.5,748.1 L58.5,747.5 L69.5,746.4 L81.5,745.0 L93.5,743.7 L104.5,742.3 L116.5,740.8 L128.5,739.6 L139.5,738.5 L151.5,737.5 L163.5,736.6 L175.5,735.8 L186.5,735.4 L198.5,735.4 L210.5,736.0 L221.5,737.1 L233.5,738.3 L245.5,739.4 L256.5,740.2 L268.5,741.0 L280.5,741.4 L292.5,741.8 L303.5,741.8 L315.5,741.4 L327.5,740.6 L338.5,739.4 L350.5,738.1 L362.5,736.9 L373.5,735.6 L385.5,734.4 L397.5,733.3 L409.5,732.3 L420.5,731.2 L432.5,730.4 L444.5,729.8 L455.5,728.7 L467.5,727.5 L479.5,726.2 L490.5,724.6 L502.5,723.1 L514.5,722.1 L525.5,721.0 L537.5,720.0 L549.5,718.7 L561.5,717.5 L572.5,717.7 L584.5,718.5 L596.5,718.9 L607.5,718.9 L619.5,718.7 L631.5,718.5 L642.5,718.3 L654.5,718.3 L666.5,717.9 L678.5,717.5 L689.5,717.3 L701.5,717.5 L713.5,717.3 L724.5,716.7 L736.5,716.4 L748.5,716.7 L759.5,716.9 L771.5,717.3 L783.5,717.7 L795.5,717.9 L806.5,718.9 L818.5,720.8 L830.5,723.5 L841.5,726.7 L853.5,730.0 L865.5,733.9 L876.5,737.5 L888.5,740.6 L900.5,742.9 L912.5,744.8 L923.5,746.2 L935.5,747.1 L947.5,747.7 L958.5,747.7 L970.5,747.3 L982.5,746.6 L993.5,745.6 L1005.5,745.0 L1017.5,744.3" fill="none" stroke="#ff6d00" stroke-width="1.15" stroke-linejoin="round"/>
<rect x="10" y="768" width="1420" height="44.5" fill="#7e57c2" fill-opacity="0.1"/>
<line x1="10" x2="1430" y1="768.5" y2="768.5" stroke="#787b86" stroke-width="1" stroke-dasharray="5 6"/>
<line x1="10" x2="1430" y1="790.5" y2="790.5" stroke="#b2b5be" stroke-width="1" stroke-dasharray="5 6"/>
<line x1="10" x2="1430" y1="812.5" y2="812.5" stroke="#787b86" stroke-width="1" stroke-dasharray="5 6"/>
<path d="M11.5,801.6 L46.5,800.6 L69.5,799.1 L93.5,798.1 L116.5,796.0 L139.5,794.3 L163.5,792.9 L175.5,791.8 L186.5,790.8 L210.5,791.2 L233.5,793.9 L256.5,796.8 L280.5,799.5 L303.5,799.9 L327.5,799.5 L350.5,798.1 L373.5,796.0 L397.5,793.3 L420.5,790.2 L444.5,786.6 L467.5,783.9 L490.5,780.8 L514.5,780.2 L537.5,778.7 L561.5,777.7 L584.5,779.3 L607.5,780.4 L631.5,781.0 L654.5,781.8 L678.5,782.2 L701.5,782.7 L724.5,783.1 L748.5,782.9 L771.5,782.4 L795.5,782.4 L806.5,783.3 L818.5,784.5 L830.5,786.4 L841.5,788.5 L853.5,789.9 L876.5,793.7 L900.5,797.9 L923.5,799.9 L947.5,801.6 L958.5,802.6 L970.5,802.6 L982.5,802.2 L993.5,801.2 L1005.5,800.4 L1017.5,799.5" fill="none" stroke="#9e9e9e" stroke-width="1" stroke-linejoin="round"/>
<path d="M11.5,806.0 L22.5,804.7 L34.5,800.1 L46.5,800.4 L58.5,787.0 L69.5,788.1 L81.5,790.8 L93.5,789.5 L104.5,785.6 L116.5,784.5 L128.5,790.2 L139.5,791.4 L151.5,790.8 L163.5,789.7 L175.5,789.9 L186.5,795.8 L198.5,799.5 L210.5,803.3 L221.5,807.0 L233.5,809.9 L245.5,810.8 L256.5,801.0 L268.5,805.6 L280.5,804.1 L292.5,794.3 L303.5,794.1 L315.5,790.8 L327.5,783.9 L338.5,781.8 L350.5,784.9 L362.5,783.9 L373.5,783.9 L385.5,783.5 L397.5,784.7 L409.5,783.7 L420.5,780.4 L432.5,777.2 L444.5,788.1 L455.5,771.8 L467.5,779.1 L479.5,776.2 L490.5,769.3 L502.5,777.7 L514.5,782.9 L525.5,777.0 L537.5,778.3 L549.5,773.9 L561.5,772.9 L572.5,796.8 L584.5,796.0 L596.5,782.2 L607.5,781.4 L619.5,782.7 L631.5,783.1 L642.5,782.0 L654.5,784.5 L666.5,779.7 L678.5,780.4 L689.5,785.6 L701.5,785.4 L713.5,778.3 L724.5,777.0 L736.5,783.5 L748.5,784.9 L759.5,786.0 L771.5,783.9 L783.5,785.4 L795.5,780.2 L806.5,796.4 L818.5,801.2 L830.5,805.8 L841.5,804.3 L853.5,807.2 L865.5,807.2 L876.5,808.9 L888.5,809.1 L900.5,807.8 L912.5,802.0 L923.5,798.5 L935.5,799.1 L947.5,795.4 L958.5,798.5 L970.5,793.7 L982.5,793.7 L993.5,787.0 L1005.5,797.0 L1017.5,796.4" fill="none" stroke="#000" stroke-width="2.2" stroke-linejoin="round"/>
</g>
<text x="18.3" y="654.8" font-size="12" fill="#131722" textLength="29.2" lengthAdjust="spacingAndGlyphs" stroke="#131722" stroke-width="0.22">Stoch</text>
<text x="55.2" y="654.8" font-size="12" fill="#2962ff" textLength="28.5" lengthAdjust="spacingAndGlyphs" stroke="#2962ff" stroke-width="0.22">59.65</text>
<text x="91.6" y="654.8" font-size="12" fill="#ff6d00" textLength="28.7" lengthAdjust="spacingAndGlyphs" stroke="#ff6d00" stroke-width="0.22">67.03</text>
<text x="18.3" y="713.8" font-size="12" fill="#131722" textLength="29.6" lengthAdjust="spacingAndGlyphs" stroke="#131722" stroke-width="0.22">MACD</text>
<text x="55.2" y="713.8" font-size="12" fill="#b2dfdb" textLength="23.1" lengthAdjust="spacingAndGlyphs" stroke="#b2dfdb" stroke-width="0.22">0.03</text>
<text x="86.4" y="713.8" font-size="12" fill="#2962ff" textLength="28.5" lengthAdjust="spacingAndGlyphs" stroke="#2962ff" stroke-width="0.22">−0.12</text>
<text x="123.3" y="713.8" font-size="12" fill="#ff6d00" textLength="28.7" lengthAdjust="spacingAndGlyphs" stroke="#ff6d00" stroke-width="0.22">−0.15</text>
<text x="18.3" y="781.8" font-size="12" fill="#131722" textLength="15" lengthAdjust="spacingAndGlyphs" stroke="#131722" stroke-width="0.22">RSI</text>
<text x="41.6" y="781.8" font-size="12" fill="#131722" textLength="28.6" lengthAdjust="spacingAndGlyphs" stroke="#131722" stroke-width="0.22">43.95</text>
<text x="78.5" y="781.8" font-size="12" fill="#9e9e9e" textLength="28.1" lengthAdjust="spacingAndGlyphs" stroke="#9e9e9e" stroke-width="0.22">41.21</text>
<g clip-path="url(#cst)">
<text x="1440" y="644.2" font-size="14" fill="#131722" textLength="42.4" lengthAdjust="spacingAndGlyphs" stroke="#131722" stroke-width="0.22">100.00</text>
<text x="1440" y="694.2" font-size="14" fill="#131722" textLength="26.8" lengthAdjust="spacingAndGlyphs" stroke="#131722" stroke-width="0.22">0.00</text>
</g>
<text x="1440" y="736.3" font-size="14" fill="#131722" textLength="26.8" lengthAdjust="spacingAndGlyphs" stroke="#131722" stroke-width="0.22">0.00</text>
<text x="1440" y="806.2" font-size="14" fill="#131722" textLength="34.6" lengthAdjust="spacingAndGlyphs" stroke="#131722" stroke-width="0.22">40.00</text>
<g clip-path="url(#cpt)">
<text x="22.1" y="836.7" font-size="14" fill="#131722" text-anchor="middle" textLength="33.8" lengthAdjust="spacingAndGlyphs" stroke="#131722" stroke-width="0.22">18:00</text>
<text x="92.5" y="836.7" font-size="14" fill="#131722" text-anchor="middle" textLength="15" lengthAdjust="spacingAndGlyphs" stroke="#131722" stroke-width="0.22">23</text>
<text x="221.1" y="836.7" font-size="14" fill="#131722" text-anchor="middle" textLength="33.8" lengthAdjust="spacingAndGlyphs" stroke="#131722" stroke-width="0.22">12:00</text>
<text x="292.1" y="836.7" font-size="14" fill="#131722" text-anchor="middle" textLength="33.8" lengthAdjust="spacingAndGlyphs" stroke="#131722" stroke-width="0.22">18:00</text>
<text x="361.5" y="836.7" font-size="14" fill="#131722" text-anchor="middle" textLength="15" lengthAdjust="spacingAndGlyphs" stroke="#131722" stroke-width="0.22">24</text>
<text x="490.1" y="836.7" font-size="14" fill="#131722" text-anchor="middle" textLength="33.8" lengthAdjust="spacingAndGlyphs" stroke="#131722" stroke-width="0.22">12:00</text>
<text x="561.1" y="836.7" font-size="14" fill="#131722" text-anchor="middle" textLength="33.8" lengthAdjust="spacingAndGlyphs" stroke="#131722" stroke-width="0.22">18:00</text>
<text x="630.5" y="836.7" font-size="14" fill="#131722" text-anchor="middle" textLength="15" lengthAdjust="spacingAndGlyphs" stroke="#131722" stroke-width="0.22">25</text>
<text x="759.1" y="836.7" font-size="14" fill="#131722" text-anchor="middle" textLength="33.8" lengthAdjust="spacingAndGlyphs" stroke="#131722" stroke-width="0.22">12:00</text>
<text x="830.1" y="836.7" font-size="14" fill="#131722" text-anchor="middle" textLength="33.8" lengthAdjust="spacingAndGlyphs" stroke="#131722" stroke-width="0.22">18:00</text>
<text x="899.5" y="836.7" font-size="14" fill="#131722" text-anchor="middle" textLength="15.8" lengthAdjust="spacingAndGlyphs" font-weight="bold" stroke="#131722" stroke-width="0.22">28</text>
<text x="1029.1" y="836.7" font-size="14" fill="#131722" text-anchor="middle" textLength="33.8" lengthAdjust="spacingAndGlyphs" stroke="#131722" stroke-width="0.22">12:00</text>
<text x="1099.1" y="836.7" font-size="14" fill="#131722" text-anchor="middle" textLength="33.8" lengthAdjust="spacingAndGlyphs" stroke="#131722" stroke-width="0.22">18:00</text>
<text x="1168.5" y="836.7" font-size="14" fill="#131722" text-anchor="middle" textLength="15" lengthAdjust="spacingAndGlyphs" stroke="#131722" stroke-width="0.22">29</text>
<text x="1239.1" y="836.7" font-size="14" fill="#131722" text-anchor="middle" textLength="34.6" lengthAdjust="spacingAndGlyphs" stroke="#131722" stroke-width="0.22">06:00</text>
<text x="1309.1" y="836.7" font-size="14" fill="#131722" text-anchor="middle" textLength="33.8" lengthAdjust="spacingAndGlyphs" stroke="#131722" stroke-width="0.22">12:00</text>
<text x="1379.1" y="836.7" font-size="14" fill="#131722" text-anchor="middle" textLength="33.8" lengthAdjust="spacingAndGlyphs" stroke="#131722" stroke-width="0.22">18:00</text>
</g>
<circle cx="1017.5" cy="622.4" r="9.8" fill="#fff" stroke="#9c27b0" stroke-width="1.4"/>
<polygon points="1020.80,617.10 1013.20,622.50 1017.55,622.95 1014.00,627.70 1021.90,622.25 1017.70,621.70" fill="#9c27b0" stroke="#9c27b0" stroke-width="0.5" stroke-linejoin="round"/>
<circle cx="1368" cy="622" r="10.2" fill="#fff" stroke="#f23645" stroke-width="1.6"/>
<clipPath id="fl"><circle cx="1368" cy="622" r="8"/></clipPath>
<g clip-path="url(#fl)"><rect x="1360" y="614" width="16" height="16" fill="#fff"/><rect x="1360" y="614" width="16" height="3.4" fill="#ef5350"/><rect x="1360" y="620" width="16" height="4" fill="#ef5350"/><rect x="1360" y="626.2" width="16" height="4" fill="#ef5350"/><rect x="1360" y="614" width="10" height="10" fill="#1e88e5"/>
<rect x="1361.8" y="615.8" width="1.1" height="1.1" fill="#fff" opacity="0.85"/>
<rect x="1364.3999999999999" y="615.8" width="1.1" height="1.1" fill="#fff" opacity="0.85"/>
<rect x="1367.0" y="615.8" width="1.1" height="1.1" fill="#fff" opacity="0.85"/>
<rect x="1361.8" y="618.4" width="1.1" height="1.1" fill="#fff" opacity="0.85"/>
<rect x="1364.3999999999999" y="618.4" width="1.1" height="1.1" fill="#fff" opacity="0.85"/>
<rect x="1367.0" y="618.4" width="1.1" height="1.1" fill="#fff" opacity="0.85"/>
<rect x="1361.8" y="621.0" width="1.1" height="1.1" fill="#fff" opacity="0.85"/>
<rect x="1364.3999999999999" y="621.0" width="1.1" height="1.1" fill="#fff" opacity="0.85"/>
<rect x="1367.0" y="621.0" width="1.1" height="1.1" fill="#fff" opacity="0.85"/>
</g>
<g fill="#131722"><path d="M10,861.2h8.2v9.7h-4.2v-6.1h-4z"/><circle cx="20.9" cy="863.0" r="2.05"/><path d="M25,861.2h4.7l-4.3,9.7h-4.5z"/></g>
<text x="33.3" y="870.6" font-size="12.5" fill="#131722" textLength="69.8" lengthAdjust="spacingAndGlyphs" stroke="#131722" stroke-width="0.22">TradingView</text>
</svg>
</body></html>
